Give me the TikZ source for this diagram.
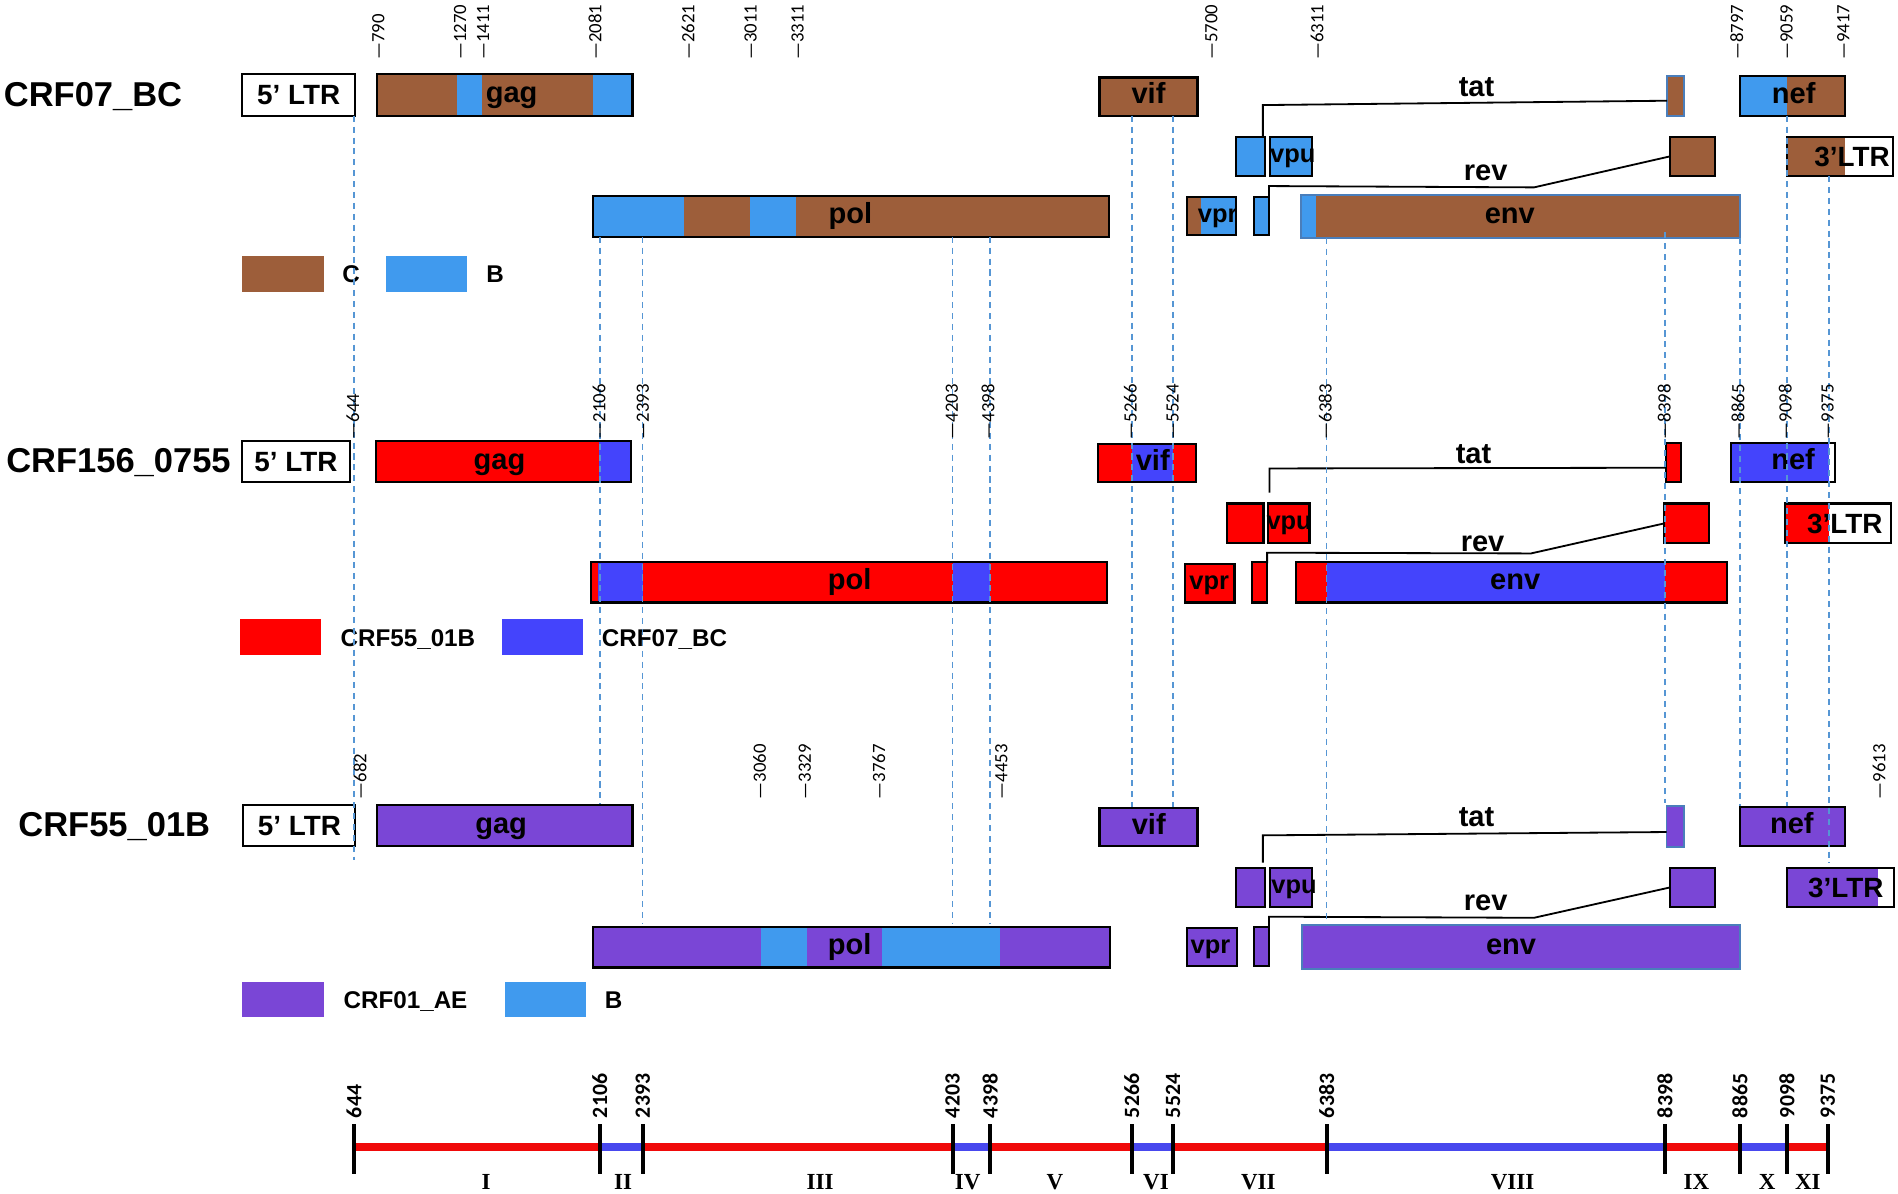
\documentclass[tikz,border=0pt]{standalone}
\usepackage{fontspec}
\setmainfont{Liberation Sans}
\newfontfamily\carl{Carlito}
\newfontfamily\tms{Liberation Serif}
\definecolor{cC}{RGB}{157,94,58}
\definecolor{cB}{RGB}{64,154,238}
\definecolor{cR}{RGB}{255,0,0}
\definecolor{cBC}{RGB}{68,68,252}
\definecolor{cAE}{RGB}{122,70,214}
\definecolor{guidec}{RGB}{86,150,212}
\definecolor{envb}{RGB}{74,126,187}
\definecolor{axr}{RGB}{240,10,10}
\definecolor{axb}{RGB}{72,72,238}
\newcommand{\sg}[5]{\fill[#1] (#2,#3) rectangle (#4,#5);}
\newcommand{\bx}[6][gbox]{\node[#1,rectangle,inner sep=0pt,outer sep=0pt,minimum width={(#5-#3)*1pt},minimum height={(#6-#4)*1pt}] (#2) at ({(#3+#5)/2},{(#4+#6)/2}) {};}
\begin{document}
\begin{tikzpicture}[x=1pt,y=-1pt,
  gbox/.style={draw=black,line width=1.8pt},
  ebox/.style={draw=envb,line width=1.5pt},
  glab/.style={font=\bfseries\fontsize{24}{26}\selectfont,inner sep=0pt,text height=17.3pt,text depth=5.1pt},
  slab/.style={font=\bfseries\fontsize{21}{24}\selectfont,inner sep=0pt,text height=15pt,text depth=4.5pt},
  ltrlab/.style={font=\bfseries\fontsize{23}{26}\selectfont,inner sep=0pt,text height=16.5pt,text depth=0pt},
  clab/.style={font=\bfseries\fontsize{24}{26}\selectfont,inner sep=0pt,anchor=base},
  seqlab/.style={font=\bfseries\fontsize{28.5}{32}\selectfont,inner sep=0pt,anchor=base west},
  leglab/.style={font=\bfseries\fontsize{20}{24}\selectfont,inner sep=0pt,anchor=base},
  tick/.style={rotate=90,anchor=west,inner sep=0pt,font=\carl\fontsize{15.5}{17}\selectfont},
  atick/.style={rotate=90,anchor=west,inner sep=0pt,font=\carl\bfseries\fontsize{18}{20}\selectfont},
  rom/.style={anchor=base,inner sep=0pt,font=\tms\bfseries\fontsize{19}{22}\selectfont},
  guide/.style={draw=guidec,line width=1.2pt,dash pattern=on 5pt off 4pt},
  conn/.style={draw=black,line width=1.5pt},
  axseg/.style={line width=6pt},
  axtick/.style={draw=black,line width=3.5pt}]
\useasboundingbox (0,0) rectangle (1568,986);

% ================= SECTION 1: CRF07_BC =================
\node[seqlab] (s1) at (3,88.2) {CRF07\_BC};
\bx{ltrA1}{200}{61}{293.5}{95.6}
\node[ltrlab] (ltrA1t) at (246.8,78.3) {5’ LTR};
\sg{cC}{311.5}{61}{522.5}{95.6}\sg{cB}{377.5}{61}{398.5}{95.6}\sg{cB}{490}{61}{522.5}{95.6}
\bx{gag1}{311.5}{61}{522.5}{95.6}
\node[glab] (gag1t) at (422.7,78.3) {gag};
\sg{cC}{908.3}{64}{989.3}{95.6}
\bx{vif1}{908.3}{64}{989.3}{95.6}
\node[glab] (vif1t) at (948.8,79.8) {vif};
\sg{cC}{1377.3}{62.5}{1391.3}{95.9}
\bx[ebox]{tat1}{1377.3}{62.5}{1391.3}{95.9}
\sg{cB}{1437.3}{62.5}{1476.3}{95.6}\sg{cC}{1476.3}{62.5}{1524.3}{95.6}
\bx{nef1}{1437.3}{62.5}{1524.3}{95.6}
\node[glab] (nef1t) at (1481.8,79.05) {nef};
\sg{cB}{1021.3}{113}{1044.8}{145.5}
\bx{vpuA1}{1021.3}{113}{1044.8}{145.5}
\sg{cB}{1049.3}{113}{1083.8}{145.5}
\bx{vpuB1}{1049.3}{113}{1083.8}{145.5}
\node[slab] (vpu1t) at (1068,129.25) {vpu};
\sg{cC}{1379.3}{113}{1416.8}{145.5}
\bx{revB1}{1379.3}{113}{1416.8}{145.5}
\sg{cC}{1476.3}{113}{1524}{145.5}
\bx{ltrB1}{1476.3}{113}{1563.8}{145.5}
\node[ltrlab] (ltrB1t) at (1530,129.25) {3’LTR};
\sg{cB}{490}{161.7}{565}{195.6}\sg{cC}{565}{161.7}{620}{195.6}\sg{cB}{620}{161.7}{658}{195.6}\sg{cC}{658}{161.7}{916.3}{195.6}
\bx{pol1}{490}{161.7}{916.3}{195.6}
\node[glab] (pol1t) at (702.5,178.65) {pol};
\sg{cC}{980.8}{162.5}{992.3}{194.2}\sg{cB}{992.3}{162.5}{1021.3}{194.2}
\bx{vpr1}{980.8}{162.5}{1021.3}{194.2}
\node[slab] (vpr1t) at (1006,178.35) {vpr};
\sg{cB}{1035.8}{162.5}{1048.3}{194.2}
\bx{revA1}{1035.8}{162.5}{1048.3}{194.2}
\sg{cB}{1074.8}{161}{1087.3}{196.4}\sg{cC}{1087.3}{161}{1437.3}{196.4}
\bx[ebox]{env1}{1074.8}{161}{1437.3}{196.4}
\node[glab] (env1t) at (1247.3,178.7) {env};
\node[clab] (tat1t) at (1219.8,80) {tat};
\node[clab] (rev1t) at (1227.3,148.8) {rev};
\coordinate (t1a) at (1043.3,113);
\coordinate (t1b) at (1043.3,86.8);
\draw[conn] (t1a) -- (t1b) -- ([yshift=-4pt]tat1.west);
\coordinate (r1a) at (1048.3,153.7);
\coordinate (r1b) at (1267.3,154.8);
\draw[conn] (revA1.north east) -- (r1a) -- (r1b) -- (revB1.west);
\fill[cC] (200,211.6) rectangle (267.5,241);
\fill[cB] (318.5,211.6) rectangle (386,241);
\node[leglab] (legC1t) at (290,233.6) {C};
\node[leglab] (legB1t) at (409,233.6) {B};

% ================= SECTION 2: CRF156_0755 =================
\node[seqlab] (s2) at (5,390.5) {CRF156\_0755};
\bx{ltrA2}{200}{364.3}{289}{398.5}
\node[ltrlab] (ltrA2t) at (244.5,381.4) {5’ LTR};
\sg{cR}{310.5}{364.3}{494.5}{398.5}\sg{cBC}{494.5}{364.3}{521.5}{398.5}
\bx{gag2}{310.5}{364.3}{521.5}{398.5}
\node[glab] (gag2t) at (412.7,381.4) {gag};
\sg{cR}{907.3}{366.8}{987.8}{398.5}\sg{cBC}{935}{366.8}{969}{398.5}
\bx{vif2}{907.3}{366.8}{987.8}{398.5}
\node[glab] (vif2t) at (952.3,382.65) {vif};
\sg{cR}{1376.3}{365.7}{1388.8}{398.5}
\bx{tat2}{1376.3}{365.7}{1388.8}{398.5}
\sg{cBC}{1429.8}{365.7}{1510.8}{398.5}
\bx{nef2}{1429.8}{365.7}{1515.8}{398.5}
\node[glab] (nef2t) at (1481.3,382.1) {nef};
\sg{cR}{1013.8}{415.9}{1043.8}{448.9}
\bx{vpuA2}{1013.8}{415.9}{1043.8}{448.9}
\sg{cR}{1047.8}{415.9}{1081.8}{448.9}
\bx{vpuB2}{1047.8}{415.9}{1081.8}{448.9}
\node[slab] (vpu2t) at (1065,432.4) {vpu};
\sg{cR}{1374.8}{415.9}{1411.8}{448.9}
\bx{revB2}{1374.8}{415.9}{1411.8}{448.9}
\sg{cR}{1474.8}{415.9}{1510.8}{448.9}
\bx{ltrB2}{1474.8}{415.9}{1562.3}{448.9}
\node[ltrlab] (ltrB2t) at (1524,432.4) {3’LTR};
\sg{cR}{488.5}{464.6}{914.8}{497.7}\sg{cBC}{494}{464.6}{531}{497.7}\sg{cBC}{787}{464.6}{818}{497.7}
\bx{pol2}{488.5}{464.6}{914.8}{497.7}
\node[glab] (pol2t) at (702,481.15) {pol};
\sg{cR}{978.8}{466}{1019.8}{497.7}
\bx{vpr2}{978.8}{466}{1019.8}{497.7}
\node[slab] (vpr2t) at (999,481.85) {vpr};
\sg{cR}{1034.3}{464.6}{1046.8}{497.7}
\bx{revA2}{1034.3}{464.6}{1046.8}{497.7}
\sg{cR}{1070.8}{464.6}{1426.8}{497.7}\sg{cBC}{1096}{464.6}{1375.5}{497.7}
\bx{env2}{1070.8}{464.6}{1426.8}{497.7}
\node[glab] (env2t) at (1251.8,481.15) {env};
\node[clab] (tat2t) at (1217.3,382.8) {tat};
\node[clab] (rev2t) at (1224.8,456) {rev};
\coordinate (t2a) at (1048.8,407);
\coordinate (t2b) at (1048.8,387);
\draw[conn] (t2a) -- (t2b) -- ([yshift=-4.3pt]tat2.west);
\coordinate (r2s) at (1046.8,465.4);
\coordinate (r2a) at (1046.8,456.6);
\coordinate (r2b) at (1264.8,457.2);
\draw[conn] (r2s) -- (r2a) -- (r2b) -- (revB2.west);
\fill[cR] (198,511.7) rectangle (265.5,541.2);
\fill[cBC] (415,511.7) rectangle (482,541.2);
\node[leglab] (legR2t) at (337,533.8) {CRF55\_01B};
\node[leglab] (legB2t) at (549,533.8) {CRF07\_BC};

% ================= SECTION 3: CRF55_01B =================
\node[seqlab] (s3) at (15,690.7) {CRF55\_01B};
\bx{ltrA3}{201}{665.3}{293.5}{698.9}
\node[ltrlab] (ltrA3t) at (247.3,682.1) {5’ LTR};
\sg{cAE}{311.5}{665.3}{522.5}{698.9}
\bx{gag3}{311.5}{665.3}{522.5}{698.9}
\node[glab] (gag3t) at (414,682.1) {gag};
\sg{cAE}{908.3}{667.5}{989.3}{699.2}
\bx{vif3}{908.3}{667.5}{989.3}{699.2}
\node[glab] (vif3t) at (949,683.35) {vif};
\sg{cAE}{1376.8}{665.9}{1391.3}{699.8}
\bx[ebox]{tat3}{1376.8}{665.9}{1391.3}{699.8}
\sg{cAE}{1437.3}{666.4}{1524.3}{699.2}
\bx{nef3}{1437.3}{666.4}{1524.3}{699.2}
\node[glab] (nef3t) at (1480.3,682.8) {nef};
\sg{cAE}{1021.3}{716.8}{1044.8}{749.6}
\bx{vpuA3}{1021.3}{716.8}{1044.8}{749.6}
\sg{cAE}{1049.3}{716.8}{1083.8}{749.6}
\bx{vpuB3}{1049.3}{716.8}{1083.8}{749.6}
\node[slab] (vpu3t) at (1069,733.2) {vpu};
\sg{cAE}{1379.3}{716.8}{1416.8}{749.6}
\bx{revB3}{1379.3}{716.8}{1416.8}{749.6}
\sg{cAE}{1476.3}{716.8}{1551.3}{749.6}
\bx{ltrB3}{1476.3}{716.8}{1564.8}{749.6}
\node[ltrlab] (ltrB3t) at (1524.8,733.2) {3’LTR};
\sg{cAE}{490}{765.6}{916.8}{799.2}\sg{cB}{628.5}{765.6}{666.5}{799.2}\sg{cB}{728.5}{765.6}{826.3}{799.2}
\bx{pol3}{490}{765.6}{916.8}{799.2}
\node[glab] (pol3t) at (702,782.4) {pol};
\sg{cAE}{980.8}{766.7}{1021.8}{798.1}
\bx{vpr3}{980.8}{766.7}{1021.8}{798.1}
\node[slab] (vpr3t) at (1000,782.4) {vpr};
\sg{cAE}{1035.8}{765.6}{1048.3}{798.1}
\bx{revA3}{1035.8}{765.6}{1048.3}{798.1}
\sg{cAE}{1075.8}{764}{1437.3}{800.3}
\bx[ebox]{env3}{1075.8}{764}{1437.3}{800.3}
\node[glab] (env3t) at (1248.3,782.15) {env};
\node[clab] (tat3t) at (1219.8,683) {tat};
\node[clab] (rev3t) at (1227.3,751.8) {rev};
\coordinate (t3a) at (1043.3,712.7);
\coordinate (t3b) at (1043.3,690.1);
\draw[conn] (t3a) -- (t3b) -- ([yshift=-4.5pt]tat3.west);
\coordinate (r3s) at (1048.3,767);
\coordinate (r3a) at (1048.3,757.3);
\coordinate (r3b) at (1267.3,758.2);
\draw[conn] (r3s) -- (r3a) -- (r3b) -- (revB3.west);
\fill[cAE] (200,811.6) rectangle (267.5,840.5);
\fill[cB] (417,811.6) rectangle (484.5,840.5);
\node[leglab] (legA3t) at (335,833.1) {CRF01\_AE};
\node[leglab] (legB3t) at (507,833.1) {B};

% ================= dashed guides =================
\foreach \x/\ya/\yb in {292.5/95.6/710.5, 495.5/195.6/664, 531/195.6/763, 787/195.6/763, 818/195.6/763,
  935/95.6/667, 969/95.6/667, 1096/196.4/763.4, 1375.5/192/663.7, 1437.3/196.4/666,
  1476.3/95.6/666, 1510.8/145.5/713}
  \draw[guide] (\x,\ya) -- (\x,\yb);

% ================= position labels =================
\foreach \x/\t in {312.5/790, 380/1270, 399/1411, 491.5/2081, 568.5/2621, 620/3011, 659/3311,
  1000.8/5700, 1088/6311, 1434.8/8797, 1476/9059, 1522.8/9417}
  \node[tick] (pa\t) at (\x,49.6) {—\t};
\foreach \x/\t in {291.5/644, 495/2106, 531/2393, 786.3/4203, 816.3/4398, 933.8/5266, 968.8/5524,
  1094.8/6383, 1374.8/8398, 1435.8/8865, 1474.8/9098, 1509.8/9375}
  \node[tick] (pb\t) at (\x,363) {—\t};
\foreach \x/\t in {297.5/682, 627.5/3060, 665/3329, 726/3767, 827.3/4453, 1552.3/9613}
  \node[tick] (pc\t) at (\x,660.5) {—\t};

% ================= breakpoint axis =================
\draw[axseg,draw=axr] (292.5,947.5) -- (495.5,947.5);
\draw[axseg,draw=axb] (495.5,947.5) -- (531,947.5);
\draw[axseg,draw=axr] (531,947.5) -- (787,947.5);
\draw[axseg,draw=axb] (787,947.5) -- (818,947.5);
\draw[axseg,draw=axr] (818,947.5) -- (935,947.5);
\draw[axseg,draw=axb] (935,947.5) -- (969,947.5);
\draw[axseg,draw=axr] (969,947.5) -- (1096,947.5);
\draw[axseg,draw=axb] (1096,947.5) -- (1375.5,947.5);
\draw[axseg,draw=axr] (1375.5,947.5) -- (1437.3,947.5);
\draw[axseg,draw=axb] (1437.3,947.5) -- (1476.3,947.5);
\draw[axseg,draw=axr] (1476.3,947.5) -- (1510,947.5);
\foreach \x/\t in {292.5/644, 495.5/2106, 531/2393, 787/4203, 818/4398, 935/5266, 969/5524,
  1096/6383, 1375.5/8398, 1437.3/8865, 1476.3/9098, 1510/9375}{
  \draw[axtick] (\x,928.6) -- (\x,970);
  \node[atick] (ax\t) at (\x,923.8) {\t};
}
\foreach \x/\r in {401.5/I, 514.7/II, 677.5/III, 799.5/IV, 871.5/V, 955/VI, 1039.5/VII, 1249.5/VIII, 1401.5/IX, 1460/X, 1493.5/XI}
  \node[rom] (rn\r) at (\x,983) {\r};
\end{tikzpicture}
\end{document}
